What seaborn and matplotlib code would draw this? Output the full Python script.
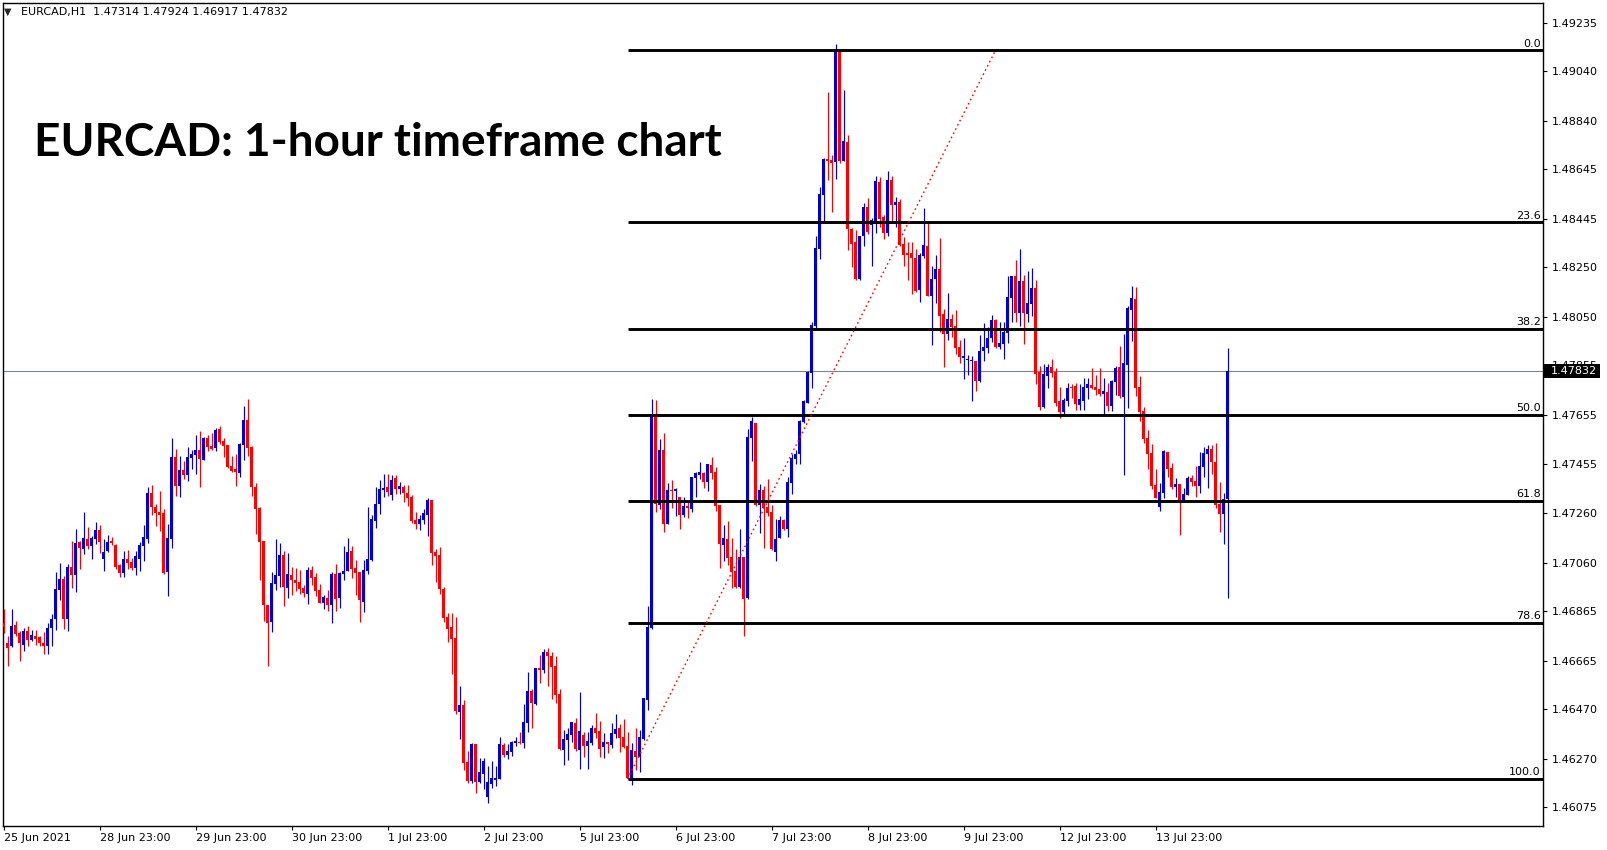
import numpy as np
import pandas as pd

import matplotlib
matplotlib.use("Agg")
import matplotlib.pyplot as plt
import matplotlib.transforms as mtransforms
from matplotlib.patches import Rectangle
import seaborn as sns

# ============================================================
# DATA  (EURCAD H1, one value per candle)
# ============================================================
SYMBOL = "EURCAD,H1"

opens = [
    1.46816, 1.46735, 1.46722, 1.46808, 1.46775, 1.46728, 1.46785, 1.46748, 1.46765, 1.46758,
    1.46736, 1.46722, 1.46795, 1.46832, 1.46950, 1.46994, 1.46834, 1.47043, 1.47010, 1.47141,
    1.47116, 1.47155, 1.47128, 1.47155, 1.47192, 1.47075, 1.47107, 1.47147, 1.47131, 1.47049,
    1.47016, 1.47075, 1.47064, 1.47036, 1.47076, 1.47125, 1.47155, 1.47341, 1.47284, 1.47264,
    1.47260, 1.47022, 1.47155, 1.47486, 1.47369, 1.47433, 1.47413, 1.47482, 1.47494, 1.47514,
    1.47474, 1.47562, 1.47530, 1.47522, 1.47599, 1.47550, 1.47534, 1.47450, 1.47437, 1.47421,
    1.47534, 1.47635, 1.47526, 1.47366, 1.47280, 1.47145, 1.46889, 1.46821, 1.46974, 1.47006,
    1.47091, 1.46958, 1.47010, 1.46990, 1.46982, 1.46958, 1.46934, 1.47031, 1.47002, 1.46950,
    1.46898, 1.46917, 1.46890, 1.47014, 1.46915, 1.47014, 1.47027, 1.47107, 1.47038, 1.47022,
    1.46902, 1.47027, 1.47070, 1.47228, 1.47296, 1.47352, 1.47365, 1.47332, 1.47401, 1.47357,
    1.47365, 1.47340, 1.47324, 1.47232, 1.47216, 1.47232, 1.47252, 1.47312, 1.47103, 1.47091,
    1.46954, 1.46841, 1.46800, 1.46756, 1.46459, 1.46486, 1.46256, 1.46178, 1.46329, 1.46176,
    1.46208, 1.46115, 1.46168, 1.46184, 1.46188, 1.46325, 1.46285, 1.46297, 1.46333, 1.46337,
    1.46333, 1.46414, 1.46542, 1.46490, 1.46635, 1.46627, 1.46700, 1.46684, 1.46643, 1.46530,
    1.46305, 1.46345, 1.46365, 1.46414, 1.46305, 1.46365, 1.46321, 1.46333, 1.46393, 1.46381,
    1.46318, 1.46335, 1.46325, 1.46369, 1.46393, 1.46357, 1.46320, 1.46190, 1.46300, 1.46277,
    1.46349, 1.46506, 1.46797, 1.47648, 1.47292, 1.47513, 1.47215, 1.47352, 1.47349, 1.47324,
    1.47251, 1.47288, 1.47277, 1.47400, 1.47413, 1.47421, 1.47384, 1.47453, 1.47425, 1.47292,
    1.47131, 1.47155, 1.47082, 1.47026, 1.46961, 1.47082, 1.46917, 1.47562, 1.47622, 1.47292,
    1.47352, 1.47284, 1.47263, 1.47102, 1.47159, 1.47231, 1.47195, 1.47380, 1.47477, 1.47497,
    1.47626, 1.47703, 1.47824, 1.48013, 1.48324, 1.48541, 1.48686, 1.48682, 1.48674, 1.49121,
    1.48678, 1.48755, 1.48404, 1.48352, 1.48203, 1.48376, 1.48493, 1.48420, 1.48424, 1.48594,
    1.48452, 1.48388, 1.48602, 1.48501, 1.48513, 1.48344, 1.48307, 1.48307, 1.48287, 1.48158,
    1.48295, 1.48336, 1.48134, 1.48203, 1.48243, 1.48062, 1.47981, 1.48041, 1.48013, 1.47929,
    1.47884, 1.47876, 1.47872, 1.47872, 1.47792, 1.47913, 1.47925, 1.47965, 1.48037, 1.47929,
    1.47941, 1.47985, 1.48126, 1.48215, 1.48066, 1.48195, 1.48062, 1.48102, 1.48166, 1.47828,
    1.47687, 1.47812, 1.47848, 1.47828, 1.47711, 1.47667, 1.47711, 1.47767, 1.47771, 1.47695,
    1.47711, 1.47763, 1.47775, 1.47767, 1.47759, 1.47739, 1.47747, 1.47691, 1.47788, 1.47848,
    1.47727, 1.47856, 1.48078, 1.48122, 1.47767, 1.47671, 1.47562, 1.47501, 1.47372, 1.47284,
    1.47340, 1.47505, 1.47441, 1.47364, 1.47376, 1.47312, 1.47332, 1.47401, 1.47389, 1.47368,
    1.47445, 1.47497, 1.47518, 1.47465, 1.47296, 1.47256, 1.47314,
]

highs = [
    1.46872, 1.46765, 1.46872, 1.46825, 1.46782, 1.46795, 1.46805, 1.46789, 1.46786, 1.46762,
    1.46779, 1.46818, 1.46853, 1.47020, 1.47060, 1.47004, 1.47055, 1.47147, 1.47196, 1.47147,
    1.47264, 1.47204, 1.47165, 1.47223, 1.47212, 1.47155, 1.47172, 1.47162, 1.47135, 1.47052,
    1.47107, 1.47111, 1.47080, 1.47106, 1.47143, 1.47212, 1.47365, 1.47373, 1.47296, 1.47349,
    1.47276, 1.47216, 1.47562, 1.47518, 1.47490, 1.47470, 1.47526, 1.47514, 1.47574, 1.47591,
    1.47566, 1.47574, 1.47582, 1.47603, 1.47611, 1.47562, 1.47534, 1.47490, 1.47498, 1.47542,
    1.47691, 1.47719, 1.47530, 1.47381, 1.47284, 1.47147, 1.46889, 1.47022, 1.47155, 1.47139,
    1.47107, 1.47099, 1.47043, 1.47039, 1.47030, 1.46970, 1.47043, 1.47047, 1.47018, 1.46974,
    1.46931, 1.46950, 1.47021, 1.47054, 1.47022, 1.47127, 1.47159, 1.47127, 1.47070, 1.47022,
    1.47070, 1.47284, 1.47252, 1.47365, 1.47393, 1.47416, 1.47417, 1.47413, 1.47413, 1.47385,
    1.47373, 1.47373, 1.47332, 1.47264, 1.47252, 1.47276, 1.47320, 1.47312, 1.47115, 1.47123,
    1.46962, 1.46857, 1.46857, 1.46841, 1.46563, 1.46506, 1.46301, 1.46333, 1.46329, 1.46272,
    1.46272, 1.46240, 1.46260, 1.46240, 1.46357, 1.46333, 1.46329, 1.46341, 1.46357, 1.46377,
    1.46490, 1.46619, 1.46551, 1.46635, 1.46688, 1.46712, 1.46716, 1.46700, 1.46684, 1.46551,
    1.46385, 1.46393, 1.46418, 1.46434, 1.46538, 1.46377, 1.46377, 1.46405, 1.46454, 1.46422,
    1.46373, 1.46337, 1.46412, 1.46449, 1.46409, 1.46429, 1.46377, 1.46331, 1.46393, 1.46385,
    1.46514, 1.46885, 1.47719, 1.47715, 1.47558, 1.47582, 1.47380, 1.47392, 1.47362, 1.47324,
    1.47324, 1.47304, 1.47404, 1.47425, 1.47465, 1.47425, 1.47457, 1.47485, 1.47445, 1.47292,
    1.47211, 1.47227, 1.47159, 1.47114, 1.47195, 1.47082, 1.47598, 1.47646, 1.47622, 1.47376,
    1.47368, 1.47396, 1.47292, 1.47235, 1.47247, 1.47235, 1.47404, 1.47497, 1.47513, 1.47634,
    1.47715, 1.47832, 1.48029, 1.48376, 1.48573, 1.48690, 1.48956, 1.48702, 1.49150, 1.49121,
    1.48964, 1.48783, 1.48408, 1.48400, 1.48376, 1.48509, 1.48529, 1.48448, 1.48618, 1.48614,
    1.48461, 1.48638, 1.48618, 1.48533, 1.48525, 1.48372, 1.48352, 1.48352, 1.48324, 1.48307,
    1.48489, 1.48428, 1.48255, 1.48299, 1.48368, 1.48082, 1.48146, 1.48062, 1.48078, 1.47957,
    1.47965, 1.47896, 1.47892, 1.47872, 1.47977, 1.48025, 1.48009, 1.48058, 1.48041, 1.48029,
    1.48029, 1.48215, 1.48215, 1.48279, 1.48324, 1.48219, 1.48235, 1.48247, 1.48199, 1.47852,
    1.47860, 1.47860, 1.47880, 1.47844, 1.47767, 1.47723, 1.47784, 1.47780, 1.47784, 1.47780,
    1.47804, 1.47804, 1.47844, 1.47816, 1.47844, 1.47804, 1.47784, 1.47796, 1.47852, 1.47933,
    1.47981, 1.48094, 1.48174, 1.48170, 1.47812, 1.47687, 1.47594, 1.47538, 1.47437, 1.47380,
    1.47514, 1.47505, 1.47461, 1.47401, 1.47376, 1.47360, 1.47409, 1.47413, 1.47449, 1.47505,
    1.47526, 1.47534, 1.47534, 1.47542, 1.47385, 1.47340, 1.47924,
]

lows = [
    1.46775, 1.46641, 1.46718, 1.46762, 1.46665, 1.46705, 1.46722, 1.46742, 1.46726, 1.46722,
    1.46692, 1.46692, 1.46722, 1.46786, 1.46910, 1.46793, 1.46782, 1.46959, 1.46943, 1.47034,
    1.47096, 1.47114, 1.47075, 1.47133, 1.47100, 1.47026, 1.47103, 1.47129, 1.47035, 1.47002,
    1.47002, 1.47034, 1.47030, 1.47010, 1.47026, 1.47067, 1.47139, 1.47252, 1.47208, 1.47185,
    1.47014, 1.46926, 1.47119, 1.47329, 1.47325, 1.47397, 1.47389, 1.47437, 1.47417, 1.47365,
    1.47472, 1.47510, 1.47514, 1.47509, 1.47538, 1.47487, 1.47441, 1.47425, 1.47369, 1.47405,
    1.47474, 1.47490, 1.47329, 1.47176, 1.46990, 1.46825, 1.46641, 1.46781, 1.46950, 1.46962,
    1.46885, 1.46918, 1.46930, 1.46946, 1.46934, 1.46922, 1.46893, 1.46970, 1.46926, 1.46896,
    1.46874, 1.46866, 1.46818, 1.46866, 1.46878, 1.46991, 1.47027, 1.46999, 1.46929, 1.46822,
    1.46862, 1.47014, 1.47068, 1.47199, 1.47256, 1.47323, 1.47328, 1.47312, 1.47336, 1.47336,
    1.47304, 1.47288, 1.47220, 1.47195, 1.47191, 1.47216, 1.47167, 1.47050, 1.46982, 1.46933,
    1.46821, 1.46740, 1.46611, 1.46450, 1.46349, 1.46224, 1.46172, 1.46170, 1.46131, 1.46170,
    1.46148, 1.46091, 1.46152, 1.46160, 1.46188, 1.46277, 1.46268, 1.46281, 1.46321, 1.46329,
    1.46313, 1.46377, 1.46393, 1.46486, 1.46575, 1.46615, 1.46563, 1.46510, 1.46494, 1.46305,
    1.46244, 1.46264, 1.46337, 1.46301, 1.46228, 1.46277, 1.46228, 1.46325, 1.46353, 1.46277,
    1.46272, 1.46293, 1.46311, 1.46351, 1.46296, 1.46312, 1.46186, 1.46163, 1.46224, 1.46216,
    1.46345, 1.46466, 1.46793, 1.47265, 1.47276, 1.47183, 1.47215, 1.47280, 1.47247, 1.47195,
    1.47243, 1.47239, 1.47263, 1.47324, 1.47396, 1.47360, 1.47348, 1.47396, 1.47267, 1.47038,
    1.47066, 1.47050, 1.46957, 1.46957, 1.46957, 1.46764, 1.46913, 1.47469, 1.47288, 1.47179,
    1.47118, 1.47247, 1.47110, 1.47066, 1.47159, 1.47191, 1.47163, 1.47336, 1.47457, 1.47457,
    1.47622, 1.47703, 1.47763, 1.48005, 1.48283, 1.48432, 1.48602, 1.48473, 1.48606, 1.48670,
    1.48678, 1.48320, 1.48251, 1.48199, 1.48199, 1.48336, 1.48384, 1.48255, 1.48388, 1.48412,
    1.48364, 1.48376, 1.48436, 1.48412, 1.48336, 1.48255, 1.48199, 1.48142, 1.48150, 1.48110,
    1.48287, 1.48134, 1.47937, 1.48106, 1.47989, 1.47848, 1.47957, 1.47969, 1.47900, 1.47864,
    1.47800, 1.47816, 1.47711, 1.47751, 1.47788, 1.47872, 1.47904, 1.47949, 1.47925, 1.47921,
    1.47880, 1.47945, 1.48029, 1.48029, 1.48013, 1.47941, 1.48029, 1.48054, 1.47779, 1.47675,
    1.47683, 1.47763, 1.47808, 1.47691, 1.47642, 1.47659, 1.47691, 1.47723, 1.47675, 1.47675,
    1.47675, 1.47719, 1.47759, 1.47735, 1.47731, 1.47659, 1.47671, 1.47671, 1.47735, 1.47723,
    1.47413, 1.47683, 1.47953, 1.47731, 1.47630, 1.47542, 1.47437, 1.47356, 1.47320, 1.47268,
    1.47320, 1.47405, 1.47356, 1.47324, 1.47171, 1.47304, 1.47332, 1.47368, 1.47324, 1.47340,
    1.47405, 1.47360, 1.47417, 1.47280, 1.47183, 1.47135, 1.46917,
]

closes = [
    1.46802, 1.46715, 1.46805, 1.46773, 1.46735, 1.46785, 1.46748, 1.46767, 1.46752, 1.46735,
    1.46722, 1.46797, 1.46833, 1.46954, 1.46993, 1.46833, 1.47043, 1.47010, 1.47139, 1.47120,
    1.47158, 1.47128, 1.47159, 1.47192, 1.47141, 1.47103, 1.47143, 1.47137, 1.47043, 1.47016,
    1.47075, 1.47060, 1.47036, 1.47087, 1.47131, 1.47163, 1.47341, 1.47282, 1.47261, 1.47252,
    1.47017, 1.47159, 1.47486, 1.47369, 1.47433, 1.47413, 1.47486, 1.47498, 1.47514, 1.47478,
    1.47562, 1.47526, 1.47518, 1.47595, 1.47546, 1.47531, 1.47445, 1.47429, 1.47425, 1.47538,
    1.47635, 1.47522, 1.47365, 1.47276, 1.47143, 1.46889, 1.46817, 1.46978, 1.47010, 1.47091,
    1.46962, 1.47014, 1.46990, 1.46978, 1.46954, 1.46938, 1.47031, 1.46998, 1.46946, 1.46898,
    1.46920, 1.46890, 1.47014, 1.46911, 1.47018, 1.47026, 1.47103, 1.47034, 1.47019, 1.46907,
    1.47030, 1.47074, 1.47236, 1.47296, 1.47357, 1.47361, 1.47346, 1.47393, 1.47357, 1.47369,
    1.47340, 1.47320, 1.47228, 1.47216, 1.47236, 1.47260, 1.47312, 1.47099, 1.47087, 1.46954,
    1.46837, 1.46792, 1.46752, 1.46462, 1.46486, 1.46252, 1.46178, 1.46329, 1.46176, 1.46216,
    1.46260, 1.46176, 1.46192, 1.46192, 1.46329, 1.46285, 1.46301, 1.46337, 1.46341, 1.46333,
    1.46418, 1.46542, 1.46494, 1.46635, 1.46627, 1.46700, 1.46684, 1.46639, 1.46526, 1.46309,
    1.46349, 1.46369, 1.46418, 1.46309, 1.46381, 1.46321, 1.46341, 1.46393, 1.46373, 1.46309,
    1.46335, 1.46328, 1.46371, 1.46389, 1.46353, 1.46317, 1.46190, 1.46304, 1.46277, 1.46357,
    1.46514, 1.46801, 1.47648, 1.47296, 1.47513, 1.47215, 1.47352, 1.47348, 1.47357, 1.47251,
    1.47288, 1.47280, 1.47404, 1.47421, 1.47425, 1.47384, 1.47457, 1.47421, 1.47288, 1.47135,
    1.47159, 1.47078, 1.47022, 1.46961, 1.47082, 1.46913, 1.47566, 1.47630, 1.47292, 1.47352,
    1.47280, 1.47259, 1.47114, 1.47155, 1.47231, 1.47195, 1.47384, 1.47481, 1.47497, 1.47630,
    1.47711, 1.47828, 1.48017, 1.48328, 1.48545, 1.48686, 1.48678, 1.48670, 1.49121, 1.48678,
    1.48759, 1.48404, 1.48344, 1.48203, 1.48376, 1.48493, 1.48392, 1.48440, 1.48598, 1.48444,
    1.48388, 1.48602, 1.48501, 1.48513, 1.48340, 1.48299, 1.48299, 1.48287, 1.48154, 1.48299,
    1.48340, 1.48134, 1.48203, 1.48243, 1.48054, 1.47981, 1.48041, 1.48009, 1.47925, 1.47888,
    1.47892, 1.47880, 1.47876, 1.47792, 1.47913, 1.47929, 1.47965, 1.48037, 1.47929, 1.47945,
    1.47989, 1.48130, 1.48215, 1.48066, 1.48195, 1.48066, 1.48106, 1.48166, 1.47820, 1.47687,
    1.47820, 1.47848, 1.47824, 1.47703, 1.47667, 1.47715, 1.47763, 1.47763, 1.47699, 1.47719,
    1.47767, 1.47779, 1.47763, 1.47755, 1.47739, 1.47751, 1.47691, 1.47792, 1.47844, 1.47731,
    1.47864, 1.48086, 1.48126, 1.47763, 1.47667, 1.47558, 1.47497, 1.47368, 1.47320, 1.47344,
    1.47510, 1.47437, 1.47364, 1.47376, 1.47312, 1.47336, 1.47401, 1.47385, 1.47368, 1.47449,
    1.47501, 1.47518, 1.47465, 1.47292, 1.47256, 1.47316, 1.47832,
]

date_ticks = [0, 24, 48, 72, 96, 120, 144, 168, 192, 216, 240, 264, 288]
date_labels = ["25 Jun 2021", "28 Jun 23:00", "29 Jun 23:00", "30 Jun 23:00",
               "1 Jul 23:00", "2 Jul 23:00", "5 Jul 23:00", "6 Jul 23:00",
               "7 Jul 23:00", "8 Jul 23:00", "9 Jul 23:00", "12 Jul 23:00",
               "13 Jul 23:00"]

price_ticks = [1.49235, 1.49040, 1.48840, 1.48645, 1.48445, 1.48250, 1.48050, 1.47855,
               1.47655, 1.47455, 1.47260, 1.47060, 1.46865, 1.46665, 1.46470, 1.46270,
               1.46075]

# Fibonacci retracement drawn on the chart
fib_levels = [0.0, 23.6, 38.2, 50.0, 61.8, 78.6, 100.0]
fib_high = 1.49124
fib_low = 1.46188
fib_start = 156     # bar of the swing low anchor
fib_end = 248       # bar of the second anchor

last_price = 1.47832

# ============================================================
# STYLE
# ============================================================
BULL = "#0000d2"
BEAR = "#ff0000"

sns.set_theme(style="white")
plt.rcParams["font.family"] = ["DejaVu Sans"]
plt.rcParams["axes.edgecolor"] = "black"

df = pd.DataFrame({"open": opens, "high": highs, "low": lows, "close": closes})
df["bar"] = np.arange(len(df))
df["up"] = df["close"] >= df["open"]
df["color"] = np.where(df["up"], BULL, BEAR)
df["body_lo"] = df[["open", "close"]].min(axis=1)
df["body_h"] = (df["close"] - df["open"]).abs().clip(lower=0.00004)

fig = plt.figure(figsize=(16.07, 8.5), dpi=100)
ax = fig.add_axes([3 / 1607, 24 / 850, 1540 / 1607, 823 / 850])

# ------------------------------------------------------------
# candles
# ------------------------------------------------------------
ax.vlines(df["bar"], df["low"], df["high"], colors=df["color"], linewidth=0.85, zorder=3)
ax.bar(df["bar"], df["body_h"], bottom=df["body_lo"], width=0.8,
       color=df["color"], linewidth=0, zorder=3)

ax.set_xlim(-0.125, 384.875)
ax.set_ylim(1.45998, 1.49315)

# current price line
ax.axhline(last_price, color="#7a8696", linewidth=0.8, zorder=2)

# ------------------------------------------------------------
# fibonacci
# ------------------------------------------------------------
blend = mtransforms.blended_transform_factory(ax.transAxes, ax.transData)
xmax = ax.get_xlim()[1]
for lvl in fib_levels:
    price = fib_high - (fib_high - fib_low) * lvl / 100
    ax.hlines(price, fib_start, xmax, color="black", linewidth=2.1, zorder=4)
    ax.annotate(f"{lvl:.1f}", xy=(1.0, price), xycoords=blend,
                xytext=(-1.5, 1.2), textcoords="offset points",
                ha="right", va="bottom", fontsize=8, color="black", zorder=5)

trend = pd.DataFrame({"bar": [fib_start, fib_end], "price": [fib_low, fib_high]})
sns.lineplot(data=trend, x="bar", y="price", ax=ax, color="red",
             linewidth=1.0, linestyle=(0, (1.2, 2.2)), zorder=4)

# ------------------------------------------------------------
# axes
# ------------------------------------------------------------
ax.set_xlabel("")
ax.set_ylabel("")
ax.yaxis.tick_right()
ax.set_yticks(price_ticks)
ax.set_yticklabels([f"{p:.5f}" for p in price_ticks])
ax.set_xticks(date_ticks)
ax.set_xticklabels(date_labels, ha="left")
ax.tick_params(axis="y", which="both", right=True, left=False, length=3, width=0.8,
               pad=3, labelsize=8, colors="black", direction="out")
ax.tick_params(axis="x", which="both", bottom=True, length=3, width=0.8,
               pad=2, labelsize=8, colors="black", direction="out")
for side in ["left", "right", "top", "bottom"]:
    ax.spines[side].set_visible(True)
    ax.spines[side].set_color("black")
    ax.spines[side].set_linewidth(1.0)

# last price box on the price scale (covers the 1.47855 label, as in MT4)
box_h = 14 * (ax.get_ylim()[1] - ax.get_ylim()[0]) / 823
ax.add_patch(Rectangle((1.0, last_price - box_h / 2), 57 / 1540, box_h,
                       transform=blend, facecolor="black", edgecolor="none",
                       clip_on=False, zorder=10))
ax.text(1.0 + 8 / 1540, last_price, f"{last_price:.5f}", transform=blend,
        ha="left", va="center", fontsize=8, color="white", zorder=11)

# ------------------------------------------------------------
# header texts
# ------------------------------------------------------------
fig.text(4 / 1607, 1 - 12 / 850, "\u25bc", fontsize=7, va="center", ha="left")
fig.text(21 / 1607, 1 - 12.5 / 850,
         f"{SYMBOL}  {opens[-1]:.5f} {highs[-1]:.5f} {lows[-1]:.5f} {closes[-1]:.5f}",
         fontsize=8, va="center", ha="left", color="black")

fig.text(34 / 1607, 1 - 156 / 850, "EURCAD: 1-hour timeframe chart",
         fontsize=33, fontweight="bold", family=["Lato", "DejaVu Sans"],
         va="baseline", ha="left", color="black")

fig.savefig("out.png", dpi=100, facecolor="white")
plt.close(fig)
